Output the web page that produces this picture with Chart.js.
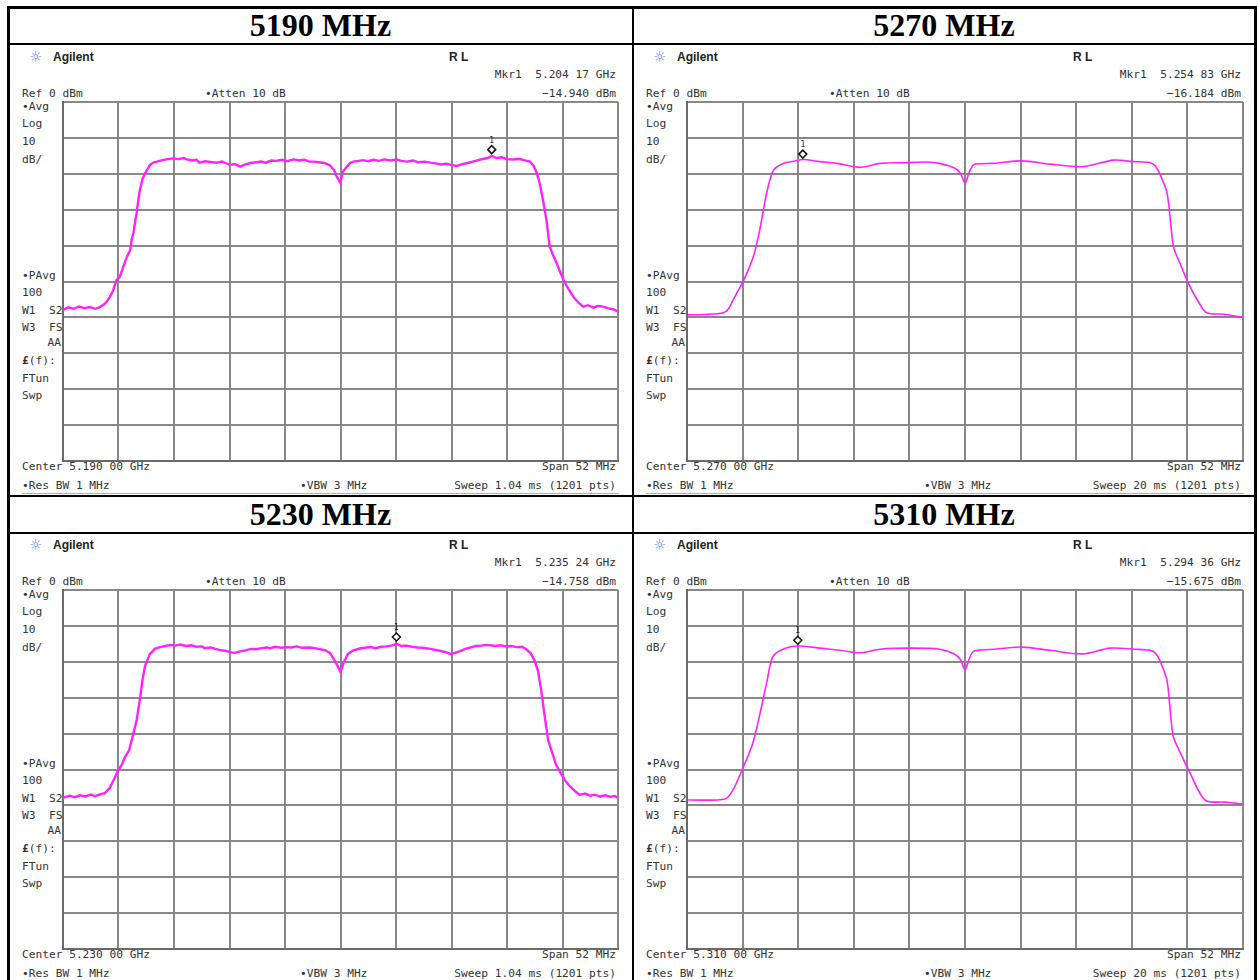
<!DOCTYPE html>
<html><head><meta charset="utf-8">
<script src="https://cdn.jsdelivr.net/npm/chart.js@4.4.1/dist/chart.umd.min.js"></script>
<style>
html,body{margin:0;padding:0;background:#fff;}
#page{position:relative;width:1259px;height:980px;overflow:hidden;background:#fff;}
.t{position:absolute;font-family:"DejaVu Sans Mono",monospace;font-size:11.2px;color:#333;white-space:pre;line-height:14px;}
.b{position:absolute;font-family:"Liberation Sans",Arial,sans-serif;font-weight:bold;font-size:12px;color:#222;white-space:pre;line-height:14px;}
.star{position:absolute;font-family:"DejaVu Sans",sans-serif;font-size:15px;color:#7b7bff;line-height:16px;}
.title{position:absolute;font-family:"Liberation Serif","Times New Roman",serif;font-weight:bold;font-size:32px;color:#000;text-align:center;line-height:36px;white-space:pre;}
.ln{position:absolute;background:#000;}
.gl{position:absolute;background:#b0b0b0;height:1px;}
canvas{position:absolute;}
</style></head><body><div id="page"></div>
<script>
// ---- Data (frequency offset from centre in MHz, level in dBm) ----
const titles = ['5190 MHz', '5270 MHz', '5230 MHz', '5310 MHz'];
const centers = ['5.190 00 GHz', '5.270 00 GHz', '5.230 00 GHz', '5.310 00 GHz'];
const markerFreqText = ['5.204 17 GHz', '5.254 83 GHz', '5.235 24 GHz', '5.294 36 GHz'];
const markerLevelText = ['-14.940 dBm', '-16.184 dBm', '-14.758 dBm', '-15.675 dBm'];
const sweepText = ['Sweep 1.04 ms (1201 pts)', 'Sweep 20 ms (1201 pts)', 'Sweep 1.04 ms (1201 pts)', 'Sweep 20 ms (1201 pts)'];
const markerOffset = [14.17, -15.17, 5.24, -15.64];
const markerLevel = [-14.94, -16.184, -14.758, -15.675];

const f5190 = [-26.0,-25.5,-25.0,-24.5,-24.0,-23.5,-23.0,-22.6,-22.2,-21.9,-21.6,-21.3,-21.0,-20.7,-20.35,-20.0,-19.7,-19.55,-19.4,-19.25,-19.1,-18.95,-18.8,-18.55,-18.3,-17.85,-17.5,-17.2,-16.7,-16.2,-15.7,-15.2,-14.7,-14.4,-13.9,-13.5,-13.2,-12.7,-12.2,-11.6,-11.1,-10.6,-10.35,-9.9,-9.4,-8.9,-8.4,-7.9,-7.5,-7.0,-6.5,-6.0,-5.5,-5.0,-4.4,-3.9,-3.4,-2.9,-2.55,-2.0,-1.5,-1.0,-0.6,-0.35,0.0,0.2,0.6,0.9,1.2,1.7,2.1,2.6,3.1,3.6,4.1,4.7,5.25,5.7,6.2,6.8,7.3,7.9,8.4,8.9,9.4,9.9,10.4,10.9,11.4,11.9,12.4,12.9,13.4,13.8,14.17,14.6,15.1,15.6,16.2,16.7,17.2,17.75,18.1,18.4,18.65,18.85,19.1,19.3,19.45,19.6,19.9,20.25,20.6,20.9,21.3,21.8,22.3,22.75,23.2,23.7,24.1,24.6,25.1,25.6,26.0];
const p5190 = [-57.9,-57.2,-57.6,-57.0,-57.4,-57.1,-57.6,-57.2,-56.5,-55.6,-54.2,-52.5,-49.6,-48.8,-45.9,-43.0,-41.2,-38.0,-36.5,-33.5,-30.9,-27.5,-24.5,-21.5,-19.8,-17.5,-16.8,-16.6,-16.2,-15.9,-15.7,-15.9,-15.6,-16.0,-16.3,-16.1,-16.9,-16.5,-16.7,-16.9,-16.6,-17.2,-17.5,-17.3,-18.0,-17.4,-17.0,-16.8,-16.6,-16.9,-16.3,-16.4,-16.1,-16.5,-16.0,-16.3,-16.1,-16.6,-16.6,-16.8,-17.0,-17.6,-19.0,-20.8,-22.6,-19.5,-18.0,-17.0,-16.6,-16.4,-16.2,-16.5,-16.1,-16.4,-16.0,-16.3,-16.0,-16.4,-16.6,-16.3,-16.8,-16.6,-16.9,-17.1,-17.4,-17.2,-17.6,-17.8,-17.3,-17.0,-16.6,-16.2,-15.8,-15.6,-15.0,-15.6,-15.4,-15.9,-16.0,-15.8,-16.2,-16.6,-17.8,-19.9,-22.5,-25.4,-29.5,-32.9,-36.5,-40.3,-42.5,-44.9,-47.5,-49.6,-51.8,-54.2,-55.9,-57.0,-56.6,-57.3,-56.8,-57.0,-57.5,-57.8,-58.4];

const f5270 = [-25.9,-24.3,-22.6,-22.1,-21.7,-20.7,-19.8,-19.2,-18.55,-17.9,-17.0,-16.0,-15.1,-13.6,-12.0,-9.8,-7.95,-5.45,-3.6,-2.35,-0.9,-0.4,0.0,0.4,0.8,1.5,2.65,5.3,7.95,11.05,13.9,15.7,17.3,17.8,18.2,18.9,19.5,20.1,20.9,21.8,22.6,24.2,26.0];
const p5270 = [-59.3,-59.2,-58.7,-57.5,-55.2,-49.6,-43.1,-35.7,-25.4,-18.9,-17.1,-16.5,-16.0,-16.6,-17.1,-18.2,-17.1,-16.9,-16.7,-17.1,-18.5,-20.0,-22.6,-19.5,-17.5,-17.2,-17.1,-16.4,-17.3,-18.0,-16.2,-16.6,-16.9,-17.8,-19.9,-25.4,-40.3,-44.9,-50.5,-55.5,-58.7,-59.1,-60.0];

const f5230 = [-26.0,-25.4,-24.9,-24.4,-23.9,-23.4,-23.0,-22.5,-22.1,-21.6,-21.2,-20.85,-20.5,-20.2,-19.8,-19.45,-19.1,-18.8,-18.55,-18.3,-17.85,-17.4,-16.9,-16.4,-15.9,-15.5,-15.0,-14.5,-14.0,-13.5,-13.0,-12.7,-12.2,-11.7,-11.2,-10.7,-10.3,-9.9,-9.4,-8.9,-8.4,-7.9,-7.4,-6.9,-6.6,-6.1,-5.6,-5.1,-4.6,-4.1,-3.6,-2.85,-2.4,-1.9,-1.4,-1.0,-0.6,-0.3,0.0,0.3,0.7,1.2,1.8,2.3,2.8,3.3,3.8,4.3,4.8,5.24,5.7,6.2,6.7,7.2,7.7,8.4,8.9,9.4,9.9,10.3,10.7,11.2,11.7,12.2,12.7,13.2,13.6,14.0,14.5,15.0,15.5,16.0,16.5,17.0,17.3,17.8,18.2,18.5,18.8,19.1,19.45,19.8,20.2,20.6,21.0,21.4,21.9,22.4,22.9,23.4,23.8,24.3,24.8,25.3,25.7,26.0];
const p5230 = [-57.9,-57.3,-57.7,-57.2,-57.5,-57.0,-57.4,-56.9,-56.6,-55.0,-52.6,-50.3,-48.7,-46.6,-44.6,-40.5,-36.2,-30.5,-25.0,-21.0,-17.8,-16.4,-15.9,-15.6,-15.3,-15.5,-15.2,-15.6,-15.4,-15.8,-15.7,-16.2,-16.0,-16.4,-16.8,-17.0,-17.3,-17.5,-17.1,-16.8,-16.4,-16.5,-16.2,-16.0,-16.2,-15.8,-16.1,-15.9,-16.0,-15.7,-16.1,-16.0,-16.2,-16.5,-16.8,-17.5,-19.4,-21.0,-22.8,-20.2,-17.8,-16.8,-16.3,-16.1,-15.9,-16.2,-15.8,-15.7,-15.5,-15.0,-15.6,-15.5,-15.8,-16.0,-16.1,-16.4,-16.7,-17.0,-17.4,-17.8,-17.5,-17.0,-16.4,-16.0,-15.6,-15.5,-15.3,-15.4,-15.6,-15.4,-15.7,-15.6,-15.9,-15.8,-16.3,-17.5,-19.8,-22.5,-27.9,-34.5,-41.8,-45.0,-48.7,-50.8,-52.9,-54.4,-55.8,-57.1,-56.7,-57.3,-57.0,-57.5,-57.2,-57.6,-57.4,-57.9];

const f5310 = [-25.9,-22.45,-21.7,-20.85,-19.9,-19.2,-18.5,-17.95,-16.8,-15.6,-13.55,-11.7,-9.8,-7.95,-5.1,-2.35,-0.95,-0.4,0.0,0.35,0.75,1.5,2.8,5.35,7.95,11.0,13.55,15.9,17.3,17.8,18.2,18.9,19.45,20.1,21.05,22.45,24.3,26.0];
const p5310 = [-58.5,-58.2,-55.7,-50.1,-43.2,-34.8,-25.1,-18.4,-16.2,-15.6,-16.2,-16.8,-17.5,-16.5,-16.2,-16.5,-17.9,-19.5,-22.3,-19.5,-17.2,-16.7,-16.5,-15.9,-16.8,-17.8,-16.2,-16.5,-16.8,-17.6,-19.5,-25.4,-40.4,-45.1,-51.0,-58.5,-59.1,-59.6];

const freqs = [f5190, f5270, f5230, f5310];
const levels = [p5190, p5270, p5230, p5310];

// ---- Layout ----
const page = document.getElementById('page');
const GX = [63, 687], GY = [102, 590], GW = [555, 556], GH = 359;
const TITLE_CY = [25, 514], COL_CX = [320.5, 944];

function el(cls, txt, css) {
  const d = document.createElement('div');
  d.className = cls; d.textContent = txt;
  Object.assign(d.style, css); page.appendChild(d); return d;
}
function line(x, y, w, h, cls) { el(cls || 'ln', '', {left: x + 'px', top: y + 'px', width: w + 'px', height: h + 'px'}); }

// table lines
line(7, 6, 1250, 3);
line(7, 6, 3, 974);
line(1254, 6, 3, 974);
line(632, 6, 2, 974);
line(7, 43, 1250, 2);
line(7, 495, 1250, 2);
line(7, 532, 1250, 2);

const markerPlugin = {
  id: 'mk',
  afterDatasetsDraw(chart, args, opts) {
    const ctx = chart.ctx;
    const px = chart.scales.x.getPixelForValue(opts.f);
    const py = chart.scales.y.getPixelForValue(opts.v);
    ctx.save();
    ctx.strokeStyle = '#111'; ctx.fillStyle = '#fff'; ctx.lineWidth = 1.5;
    const cy = py - 6, r = 4;
    ctx.beginPath(); ctx.moveTo(px, cy - r); ctx.lineTo(px + r, cy); ctx.lineTo(px, cy + r); ctx.lineTo(px - r, cy); ctx.closePath();
    ctx.fill(); ctx.stroke();
    ctx.fillStyle = '#222'; ctx.font = '8px "DejaVu Sans Mono"'; ctx.textAlign = 'center'; ctx.textBaseline = 'middle';
    ctx.fillText('1', px, cy - 9);
    ctx.restore();
  }
};

for (let i = 0; i < 4; i++) {
  const col = i % 2, row = Math.floor(i / 2);
  const gx = GX[col], gy = GY[row], W = GW[col];
  el('title', titles[i], {left: (COL_CX[col] - 200) + 'px', top: (TITLE_CY[row] - 18) + 'px', width: '400px'});

  const T = (txt, rx, ry, align, cls) => {
    const css = {top: (gy + ry - 7) + 'px'};
    if (align === 'r') { css.right = (1259 - (gx + rx)) + 'px'; } else { css.left = (gx + rx) + 'px'; }
    return el(cls || 't', txt, css);
  };
  el('star', '☼', {left: (gx - 34) + 'px', top: (gy - 53) + 'px'});
  T('Agilent', -10, -45, 'l', 'b');
  T('R L', 386, -45, 'l', 'b');
  T('Mkr1  ' + markerFreqText[i], W - 2, -27, 'r');
  T(markerLevelText[i].replace('-', '\u2212'), W - 2, -8, 'r');
  T('Ref 0 dBm', -41, -8);
  T('\u2022Atten 10 dB', 142, -8);
  T('\u2022Avg', -41, 5); T('Log', -41, 22); T('10', -41, 40); T('dB/', -41, 58);
  T('\u2022PAvg', -41, 174); T('100', -41, 191); T('W1  S2', -41, 209); T('W3  FS', -41, 226);
  T('AA', -2, 241, 'r');
  const fl = T('', -41, 259);
  const pound = document.createElement('b'); pound.textContent = '\u00a3'; fl.appendChild(pound);
  fl.appendChild(document.createTextNode('(f):'));
  T('FTun', -41, 277); T('Swp', -41, 294);
  T('Center ' + centers[i], -41, 365);
  T('Span 52 MHz', W - 2, 365, 'r');
  T('\u2022Res BW 1 MHz', -41, 384);
  T('\u2022VBW 3 MHz', 237, 384);
  T(sweepText[i], W - 2, 384, 'r');
  line(gx - 41, gy + 391, W + 42, 1, 'gl');

  const cv = document.createElement('canvas');
  cv.width = W + 4; cv.height = GH + 4;
  cv.style.left = (gx - 2) + 'px'; cv.style.top = (gy - 2) + 'px';
  page.appendChild(cv);
  const pts = freqs[i].map((f, k) => ({x: f, y: levels[i][k]}));
  const noisy = (i === 0 || i === 2);
  new Chart(cv.getContext('2d'), {
    type: 'line',
    data: {datasets: [{data: pts, borderColor: '#ff22ff', borderWidth: noisy ? 2.4 : 1.6, pointRadius: 0, tension: noisy ? 0 : 0.3, fill: false}]},
    options: {
      responsive: false, animation: false, devicePixelRatio: 1,
      layout: {padding: 2},
      plugins: {legend: {display: false}, tooltip: {enabled: false}, mk: {f: markerOffset[i], v: markerLevel[i]}},
      scales: {
        x: {type: 'linear', min: -26, max: 26,
            afterBuildTicks: s => { s.ticks = []; for (let k = 0; k <= 10; k++) s.ticks.push({value: -26 + k * 5.2}); },
            ticks: {display: false}, grid: {color: '#888', lineWidth: 2, drawTicks: false},
            border: {display: true, color: '#6a6a6a', width: 2}},
        y: {min: -100, max: 0, ticks: {display: false, stepSize: 10}, grid: {color: '#888', lineWidth: 2, drawTicks: false},
            border: {display: true, color: '#6a6a6a', width: 2}}
      }
    },
    plugins: [markerPlugin]
  });
}
</script></body></html>
